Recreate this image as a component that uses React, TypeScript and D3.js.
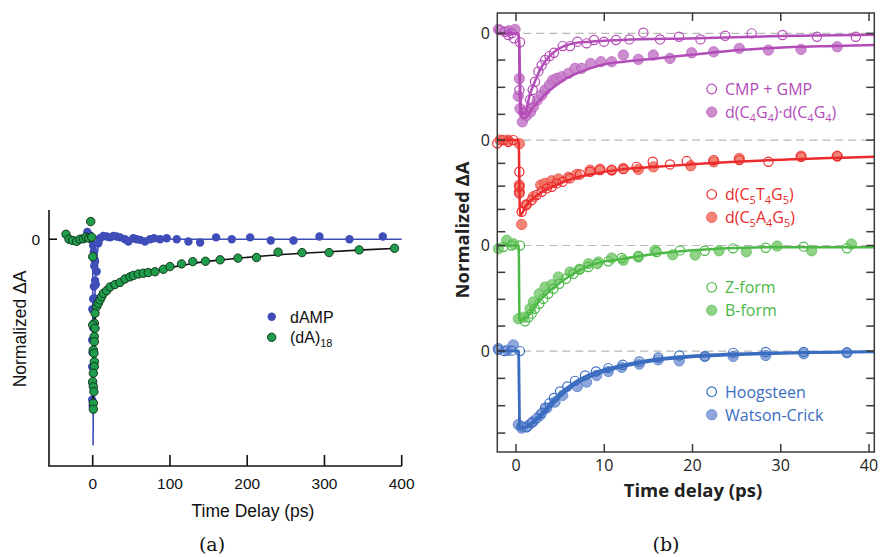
import React from "react";
import * as d3 from "d3";

type P = [number, number];

// ---------- Panel (a) data ----------
const aTicksX = [0, 100, 200, 300, 400];
const dampPoints: P[] = [
  [-9, 0.01], [-7, 0.035], [-4, 0.02], [-2, 0.0],
  [0.5, -0.03], [1.5, -0.06], [2.5, -0.1], [2, -0.13], [3, -0.2], [1.5, -0.23], [0.5, -0.29],
  [-0.5, -0.34], [0.5, -0.43], [-0.7, -0.49], [-0.3, -0.55], [-0.7, -0.62], [-0.3, -0.7],
  [-0.7, -0.78], [0, -0.81], [7.3, -0.02], [3, -0.109], [5.1, -0.157], [4, -0.22], [2, -0.287],
  [9.5, 0.005], [13.8, 0.016], [18.1, 0.013], [22.4, 0.009], [26.7, 0.016], [31, 0.013],
  [35.4, 0.009], [41.8, 0], [46.2, -0.011], [52.6, 0.005], [56.9, 0], [61.3, -0.003],
  [67.7, -0.011], [74.2, 0], [79.4, 0.005], [87.2, 0], [95.8, 0.005], [108.8, 0],
  [123.9, -0.011], [139, -0.016], [159.7, 0.009], [180, 0], [203.8, 0.009], [230.5, -0.006],
  [259.9, -0.006], [293.5, 0.013], [332.4, 0], [375.5, 0.013],
];
const dA18Points: P[] = [
  [-34.6, 0.024], [-30.7, 0], [-26, -0.006], [-20.8, -0.01], [-16.5, 0], [-12.1, 0.002],
  [-8.7, 0.01], [-5, 0.005], [-2.6, 0.086], [-1.3, 0.01], [0, -0.085],
  [5.1, -0.328], [3.0, -0.36], [2.1, -0.408], [0, -0.417], [3.0, -0.433], [2.1, -0.473],
  [2.1, -0.498], [0.8, -0.538], [1.5, -0.554], [2.1, -0.595], [2.1, -0.619], [0.8, -0.651],
  [0, -0.692], [0.8, -0.717], [1.5, -0.741], [0.8, -0.797], [0.8, -0.826],
  [7.3, -0.311], [9.5, -0.295], [11.6, -0.279], [13.8, -0.263], [18.1, -0.25], [22.4, -0.232],
  [28.9, -0.22], [35.4, -0.21], [41.8, -0.193], [48.3, -0.183], [52.6, -0.176], [59.1, -0.169],
  [65.5, -0.165], [72, -0.162], [80.7, -0.158], [91.5, -0.146], [100, -0.133], [115, -0.12],
  [129.5, -0.109], [146, -0.107], [165, -0.1], [188, -0.092], [212, -0.089], [240, -0.063],
  [271, -0.065], [306, -0.065], [345, -0.052], [390.7, -0.044],
];
const dampFit: P[] = [
  [-8, 0], [0, 0], [0.4, -1.0], [1, -0.7], [2, -0.42], [3, -0.25], [4.5, -0.12], [7, -0.04],
  [10, -0.01], [15, 0], [400, 0],
];
const dA18Fit: P[] = [
  [0, -0.84], [0.6, -0.7], [1.2, -0.55], [2, -0.45], [3, -0.39], [5, -0.33], [8, -0.3],
  [12, -0.275], [20, -0.24], [30, -0.215], [45, -0.19], [60, -0.172], [80, -0.155],
  [100, -0.138], [130, -0.118], [160, -0.103], [200, -0.088], [250, -0.073], [300, -0.062],
  [350, -0.052], [395, -0.044],
];

// ---------- Panel (b) data ----------
const bTicksX = [0, 10, 20, 30, 40];
const bTicksY = [
  0, -0.302, -0.61, -0.915, -1.206, -1.469, -1.726, -1.989, -2.241, -2.397, -2.7, -3.005,
  -3.307, -3.59, -3.898, -4.207, -4.516,
];
const traceOffsets = [0, -1.206, -2.397, -3.59];

const cmpGmp: P[] = [
  [-1.81, 0.037], [-1.25, 0.018], [-0.87, -0.019], [-0.49, 0], [-0.23, -0.056], [0.45, -0.1],
  [0.38, -0.64], [0.83, -0.9], [1.21, -0.87], [1.59, -0.75], [1.89, -0.64], [2.15, -0.547],
  [2.53, -0.43], [2.91, -0.36], [3.29, -0.3], [3.78, -0.257], [4.3, -0.219], [5.29, -0.144],
  [6.12, -0.144], [6.95, -0.094], [8.0, -0.113], [8.84, -0.075], [9.97, -0.094],
  [11.33, -0.075], [12.84, -0.068], [14.43, 0.008], [16.32, -0.068], [18.47, -0.038],
  [20.9, -0.068], [23.7, -0.027], [26.7, 0], [30.2, -0.019], [34.1, -0.038], [38.5, -0.038],
];
const c4g4: P[] = [
  [-2.0, 0.045], [-0.8, 0.03], [-0.11, 0.045], [0.38, -0.51], [0.26, -0.71], [0.45, -0.85],
  [0.72, -1.0], [1.2, -0.93], [1.66, -0.886], [1.96, -0.83], [2.42, -0.754], [2.91, -0.697],
  [3.29, -0.64], [3.78, -0.584], [4.15, -0.528], [4.61, -0.508], [5.18, -0.49], [5.93, -0.452],
  [6.69, -0.395], [7.44, -0.395], [8.46, -0.339], [9.63, -0.32], [10.84, -0.32],
  [12.16, -0.245], [13.86, -0.294], [15.56, -0.245], [17.45, -0.283], [19.9, -0.219],
  [22.4, -0.208], [25.3, -0.17], [28.6, -0.189], [32.3, -0.181], [36.4, -0.151],
];
const cmpGmpFit: P[] = [
  [-2.12, 0], [0.3, 0], [0.5, -0.92], [1.0, -0.9], [1.6, -0.68], [2.2, -0.53], [2.7, -0.415],
  [3.5, -0.29], [4.6, -0.189], [6.5, -0.113], [8.4, -0.094], [12, -0.075], [19.6, -0.057],
  [30, -0.03], [40.6, -0.015],
];
const c4g4Fit: P[] = [
  [-2.12, 0], [0.3, 0], [0.6, -0.95], [1.0, -0.96], [1.8, -0.85], [2.7, -0.754], [3.6, -0.66],
  [4.6, -0.584], [5.5, -0.52], [6.5, -0.47], [8.4, -0.395], [10, -0.35], [12.2, -0.32],
  [15.9, -0.283], [19.6, -0.245], [21.6, -0.225], [25, -0.19], [29.2, -0.165], [35, -0.145],
  [40.6, -0.132],
];

const c5t4g5: P[] = [
  [-2.12, -0.037], [-1.44, 0], [-0.87, -0.019], [-0.3, 0], [0.38, -0.358], [0.38, -0.527],
  [0.38, -0.602], [0.64, -0.81], [1.21, -0.727], [1.78, -0.678], [2.34, -0.621], [2.91, -0.584],
  [3.48, -0.546], [4.05, -0.527], [4.61, -0.489], [5.29, -0.47], [6.12, -0.433], [7.25, -0.388],
  [8.39, -0.358], [9.52, -0.339], [10.84, -0.339], [12.16, -0.328], [13.67, -0.302],
  [15.49, -0.245], [17.45, -0.275], [19.34, -0.237], [22.4, -0.226], [25.3, -0.226],
  [28.6, -0.245], [32.3, -0.189], [36.4, -0.181],
];
const c5a4g5: P[] = [
  [-1.81, 0], [-0.9, 0], [0.38, -0.04], [0.38, -0.508], [0.38, -0.584], [0.64, -0.953],
  [1.13, -0.734], [1.96, -0.64], [2.8, -0.508], [3.29, -0.489], [4.05, -0.46], [4.8, -0.44],
  [5.93, -0.42], [6.88, -0.388], [8.39, -0.339], [9.52, -0.328], [10.84, -0.339],
  [12.16, -0.32], [13.86, -0.331], [15.56, -0.302], [19.8, -0.29], [22.4, -0.245],
  [25.3, -0.207], [32.3, -0.181], [36.4, -0.181],
];
const redFit: P[] = [
  [-2.12, 0], [0.3, 0], [0.45, -0.85], [1.2, -0.734], [2.7, -0.602], [4.6, -0.508],
  [6.5, -0.433], [8.4, -0.388], [12.2, -0.328], [15.9, -0.302], [19.6, -0.275], [29.2, -0.226],
  [40.6, -0.189],
];

const zForm: P[] = [
  [-1.44, -0.017], [-0.49, 0], [0.45, 0], [1.02, -0.857], [1.4, -0.81], [1.78, -0.77],
  [2.15, -0.714], [2.64, -0.658], [3.1, -0.601], [3.66, -0.545], [4.23, -0.488], [4.91, -0.432],
  [5.67, -0.375], [6.5, -0.319], [7.25, -0.269], [8.2, -0.243], [9.21, -0.206], [10.46, -0.179],
  [11.98, -0.141], [13.86, -0.119], [15.94, -0.073], [18.58, -0.055], [21.4, -0.059],
  [24.6, -0.032], [28.3, -0.025], [32.6, -0.013], [37.5, -0.032],
];
const bForm: P[] = [
  [-2.0, -0.036], [-1.05, 0.059], [-0.3, 0.02], [0.26, -0.827], [0.83, -0.81], [1.59, -0.714],
  [1.96, -0.638], [2.64, -0.545], [3.29, -0.469], [4.05, -0.443], [4.8, -0.356], [6.12, -0.299],
  [7.17, -0.269], [8.2, -0.206], [9.33, -0.187], [10.84, -0.141], [12.16, -0.167],
  [13.86, -0.13], [15.75, -0.055], [17.76, -0.104], [20.3, -0.107], [23.0, -0.059],
  [26.1, -0.07], [29.6, -0.006], [33.5, -0.059], [38.0, 0.017],
];
const greenFit: P[] = [
  [-2.12, 0], [0.3, 0], [0.4, -0.85], [1.2, -0.81], [2.7, -0.62], [4.6, -0.45], [6.5, -0.319],
  [8.4, -0.224], [12.2, -0.149], [15.9, -0.092], [19.6, -0.055], [29.2, -0.02], [40.6, -0.02],
];

const hoogsteen: P[] = [
  [-2.0, 0.015], [-1.3, 0], [-0.5, 0.005], [0.45, 0], [0.64, -0.85], [1.21, -0.86],
  [1.78, -0.81], [2.34, -0.76], [2.91, -0.7], [3.29, -0.64], [3.78, -0.59], [4.3, -0.53],
  [4.99, -0.456], [5.82, -0.4], [6.69, -0.336], [7.82, -0.275], [9.07, -0.23], [10.46, -0.192],
  [12.09, -0.155], [13.97, -0.117], [16.12, -0.072], [18.5, -0.05], [21.4, -0.06],
  [24.6, -0.02], [28.3, -0.01], [32.6, -0.01], [37.5, -0.015],
];
const watsonCrick: P[] = [
  [-2.0, 0.03], [-1.0, 0.01], [-0.3, 0.07], [0.26, -0.83], [0.64, -0.87], [1.4, -0.84],
  [1.96, -0.794], [2.72, -0.727], [3.48, -0.644], [4.42, -0.576], [5.29, -0.5], [6.95, -0.4],
  [8.0, -0.35], [9.14, -0.275], [10.46, -0.23], [11.98, -0.184], [13.97, -0.147],
  [16.12, -0.098], [18.5, -0.11], [21.4, -0.06], [24.6, -0.06], [28.3, -0.05], [32.6, -0.03],
  [37.5, -0.02],
];
const hoogFit: P[] = [
  [-2.12, 0], [0.3, 0], [0.4, -0.87], [1.2, -0.85], [2.7, -0.72], [4.6, -0.51], [6.5, -0.36],
  [8.4, -0.26], [12.2, -0.155], [15.9, -0.09], [19.6, -0.055], [29.2, -0.02], [40.6, -0.005],
];
const wcFit: P[] = [
  [-2.12, 0], [0.3, 0], [0.4, -0.87], [1.2, -0.86], [2.7, -0.75], [4.6, -0.55], [6.5, -0.39],
  [8.4, -0.29], [12.2, -0.175], [15.9, -0.105], [19.6, -0.07], [29.2, -0.03], [40.6, -0.01],
];

const legendLabels = [
  ["CMP + GMP", "d(C_4G_4)·d(C_4G_4)"],
  ["d(C_5T_4G_5)", "d(C_5A_4G_5)"],
  ["Z-form", "B-form"],
  ["Hoogsteen", "Watson-Crick"],
];
const legendRowY = [89, 194.3, 287.3, 391.7];

// ---------- styles ----------
const traceColors = [
  { line: "#b34cb7", fill: "#c47ac8" },
  { line: "#ec2a2c", fill: "#f0705e" },
  { line: "#4cb947", fill: "#7dcb72" },
  { line: "#3a6dc0", fill: "#7c98d6" },
];

function subText(s: string, size: number, subSize: number) {
  const parts: React.ReactNode[] = [];
  let buf = "";
  let shifted = false;
  let key = 0;
  for (let i = 0; i < s.length; i++) {
    if (s[i] === "_" && i + 1 < s.length) {
      if (buf) {
        parts.push(
          <tspan key={key++} dy={shifted ? -4 : 0} fontSize={size}>
            {buf}
          </tspan>
        );
        shifted = false;
        buf = "";
      }
      parts.push(
        <tspan key={key++} dy={shifted ? 0 : 4} fontSize={subSize}>
          {s[i + 1]}
        </tspan>
      );
      shifted = true;
      i++;
    } else {
      buf += s[i];
    }
  }
  if (buf || shifted) {
    parts.push(
      <tspan key={key++} dy={shifted ? -4 : 0} fontSize={size}>
        {buf}
      </tspan>
    );
  }
  return parts;
}

function PanelA() {
  const x = d3.scaleLinear().domain([-56.6, 400]).range([49, 401.7]);
  const y = d3.scaleLinear().domain([-1.102, 0.142]).range([466, 210]);
  const line = d3
    .line<P>()
    .x((d) => x(d[0]))
    .y((d) => y(d[1]))
    .curve(d3.curveMonotoneX);
  const font = "'Liberation Sans', Arial, sans-serif";
  const blue = "#3f4db8";
  const green = "#1f9d4c";
  return (
    <g fontFamily={font}>
      <path d={line(dampFit) || ""} fill="none" stroke={blue} strokeWidth={1.6} />
      {dampPoints.map((d, i) => (
        <circle key={"b" + i} cx={x(d[0])} cy={y(d[1])} r={4.2} fill={blue} />
      ))}
      <path d={line(dA18Fit) || ""} fill="none" stroke="#111" strokeWidth={1.6} />
      {dA18Points.map((d, i) => (
        <circle
          key={"g" + i}
          cx={x(d[0])}
          cy={y(d[1])}
          r={4.2}
          fill={green}
          stroke="#0d2a14"
          strokeWidth={0.9}
        />
      ))}
      {/* axes */}
      <line x1={49} x2={49} y1={210} y2={466} stroke="#111" strokeWidth={1.6} />
      <line x1={48.2} x2={401.7} y1={466} y2={466} stroke="#111" strokeWidth={1.6} />
      {aTicksX.map((t) => (
        <g key={t}>
          <line x1={x(t)} x2={x(t)} y1={466} y2={455} stroke="#111" strokeWidth={1.6} />
          <text x={x(t)} y={488.5} textAnchor="middle" fontSize={15.5} fill="#111">
            {t}
          </text>
        </g>
      ))}
      <line x1={49} x2={57} y1={y(0)} y2={y(0)} stroke="#111" strokeWidth={1.6} />
      <text x={40} y={y(0) + 5.5} textAnchor="end" fontSize={15.5} fill="#111">
        0
      </text>
      <text x={253} y={517} textAnchor="middle" fontSize={17.5} fill="#111">
        Time Delay (ps)
      </text>
      <text
        transform="translate(26,329) rotate(-90)"
        textAnchor="middle"
        fontSize={17.5}
        fill="#111"
      >
        Normalized ΔA
      </text>
      {/* legend */}
      <circle cx={271.7} cy={316.7} r={4.2} fill={blue} />
      <text x={290} y={322.5} fontSize={16} fill="#111">
        dAMP
      </text>
      <circle cx={271.7} cy={337.3} r={4.2} fill={green} stroke="#0d2a14" strokeWidth={0.9} />
      <text x={290} y={343} fontSize={16} fill="#111">
        <tspan>(dA)</tspan>
        <tspan dy={4} fontSize={11}>
          18
        </tspan>
      </text>
    </g>
  );
}

function PanelB() {
  const x = d3.scaleLinear().domain([-2.12, 40.6]).range([497.3, 874.3]);
  const y = d3.scaleLinear().domain([-4.73, 0.23]).range([452, 13]);
  const font = "'Open Sans', 'Noto Sans', sans-serif";
  const mkLine = (off: number) =>
    d3
      .line<P>()
      .x((d) => x(d[0]))
      .y((d) => y(d[1] + off))
      .curve(d3.curveMonotoneX);
  const groups: { open: P[]; filled: P[]; fits: P[][] }[] = [
    { open: cmpGmp, filled: c4g4, fits: [cmpGmpFit, c4g4Fit] },
    { open: c5t4g5, filled: c5a4g5, fits: [redFit] },
    { open: zForm, filled: bForm, fits: [greenFit] },
    { open: hoogsteen, filled: watsonCrick, fits: [hoogFit, wcFit] },
  ];
  const left = 497.3;
  const right = 874.3;
  const top = 13;
  const bottom = 452;
  const ax = "#3a3a3a";
  return (
    <g fontFamily={font}>
      {traceOffsets.map((off, i) => (
        <line
          key={"z" + i}
          x1={left}
          x2={right}
          y1={y(off)}
          y2={y(off)}
          stroke="#b8b8b8"
          strokeWidth={1.2}
          strokeDasharray="8 5"
        />
      ))}
      {groups.map((g, gi) => {
        const off = traceOffsets[gi];
        const c = traceColors[gi];
        const ln = mkLine(off);
        return (
          <g key={"t" + gi}>
            {g.filled.map((d, i) => (
              <circle
                key={"f" + i}
                cx={x(d[0])}
                cy={y(d[1] + off)}
                r={5.2}
                fill={c.fill}
                fillOpacity={0.85}
                stroke={c.line}
                strokeOpacity={0.6}
                strokeWidth={1}
              />
            ))}
            {g.open.map((d, i) => (
              <circle
                key={"o" + i}
                cx={x(d[0])}
                cy={y(d[1] + off)}
                r={4.6}
                fill="none"
                stroke={c.line}
                strokeWidth={1.2}
              />
            ))}
            {g.fits.map((f, fi) => (
              <path
                key={"l" + fi}
                d={ln(f) || ""}
                fill="none"
                stroke={c.line}
                strokeWidth={2.5}
              />
            ))}
            {/* legend */}
            <circle
              cx={711.7}
              cy={legendRowY[gi]}
              r={4.8}
              fill="none"
              stroke={c.line}
              strokeWidth={1.2}
            />
            <text x={725} y={legendRowY[gi] + 6} fontSize={16} fill={c.line}>
              {subText(legendLabels[gi][0], 16, 11)}
            </text>
            <circle
              cx={711.7}
              cy={legendRowY[gi] + 23}
              r={5.2}
              fill={c.fill}
              fillOpacity={0.85}
              stroke={c.line}
              strokeOpacity={0.6}
              strokeWidth={1}
            />
            <text x={725} y={legendRowY[gi] + 29} fontSize={16} fill={c.line}>
              {subText(legendLabels[gi][1], 16, 11)}
            </text>
          </g>
        );
      })}
      {/* frame */}
      <rect
        x={left}
        y={top}
        width={right - left}
        height={bottom - top}
        fill="none"
        stroke={ax}
        strokeWidth={1.5}
      />
      {bTicksX.map((t) => (
        <g key={"bx" + t}>
          <line x1={x(t)} x2={x(t)} y1={bottom} y2={bottom - 8} stroke={ax} strokeWidth={1.5} />
          <line x1={x(t)} x2={x(t)} y1={top} y2={top + 8} stroke={ax} strokeWidth={1.5} />
          <text x={x(t)} y={471} textAnchor="middle" fontSize={16} fill="#222">
            {t}
          </text>
        </g>
      ))}
      {bTicksY.map((t, i) => (
        <g key={"by" + i}>
          <line x1={left} x2={left + 8} y1={y(t)} y2={y(t)} stroke={ax} strokeWidth={1.5} />
          <line x1={right} x2={right - 8} y1={y(t)} y2={y(t)} stroke={ax} strokeWidth={1.5} />
        </g>
      ))}
      {traceOffsets.map((off, i) => (
        <text key={"yl" + i} x={490} y={y(off) + 5.5} textAnchor="end" fontSize={16} fill="#222">
          0
        </text>
      ))}
      <text x={693} y={497} textAnchor="middle" fontSize={18.5} fontWeight="bold" fill="#222">
        Time delay (ps)
      </text>
      <text
        transform="translate(469,230) rotate(-90)"
        textAnchor="middle"
        fontSize={18.5}
        fontWeight="bold"
        fill="#222"
      >
        Normalized ΔA
      </text>
    </g>
  );
}

export default function App() {
  return (
    <div style={{ position: "absolute", left: 0, top: 0 }}>
      <svg width={880} height={557} style={{ display: "block", background: "#fff" }}>
        <PanelA />
        <PanelB />
        <text
          x={212}
          y={551}
          textAnchor="middle"
          fontSize={19}
          fontFamily="'DejaVu Serif', 'Liberation Serif', serif"
          fill="#111"
        >
          (a)
        </text>
        <text
          x={666}
          y={551}
          textAnchor="middle"
          fontSize={19}
          fontFamily="'DejaVu Serif', 'Liberation Serif', serif"
          fill="#111"
        >
          (b)
        </text>
      </svg>
    </div>
  );
}
